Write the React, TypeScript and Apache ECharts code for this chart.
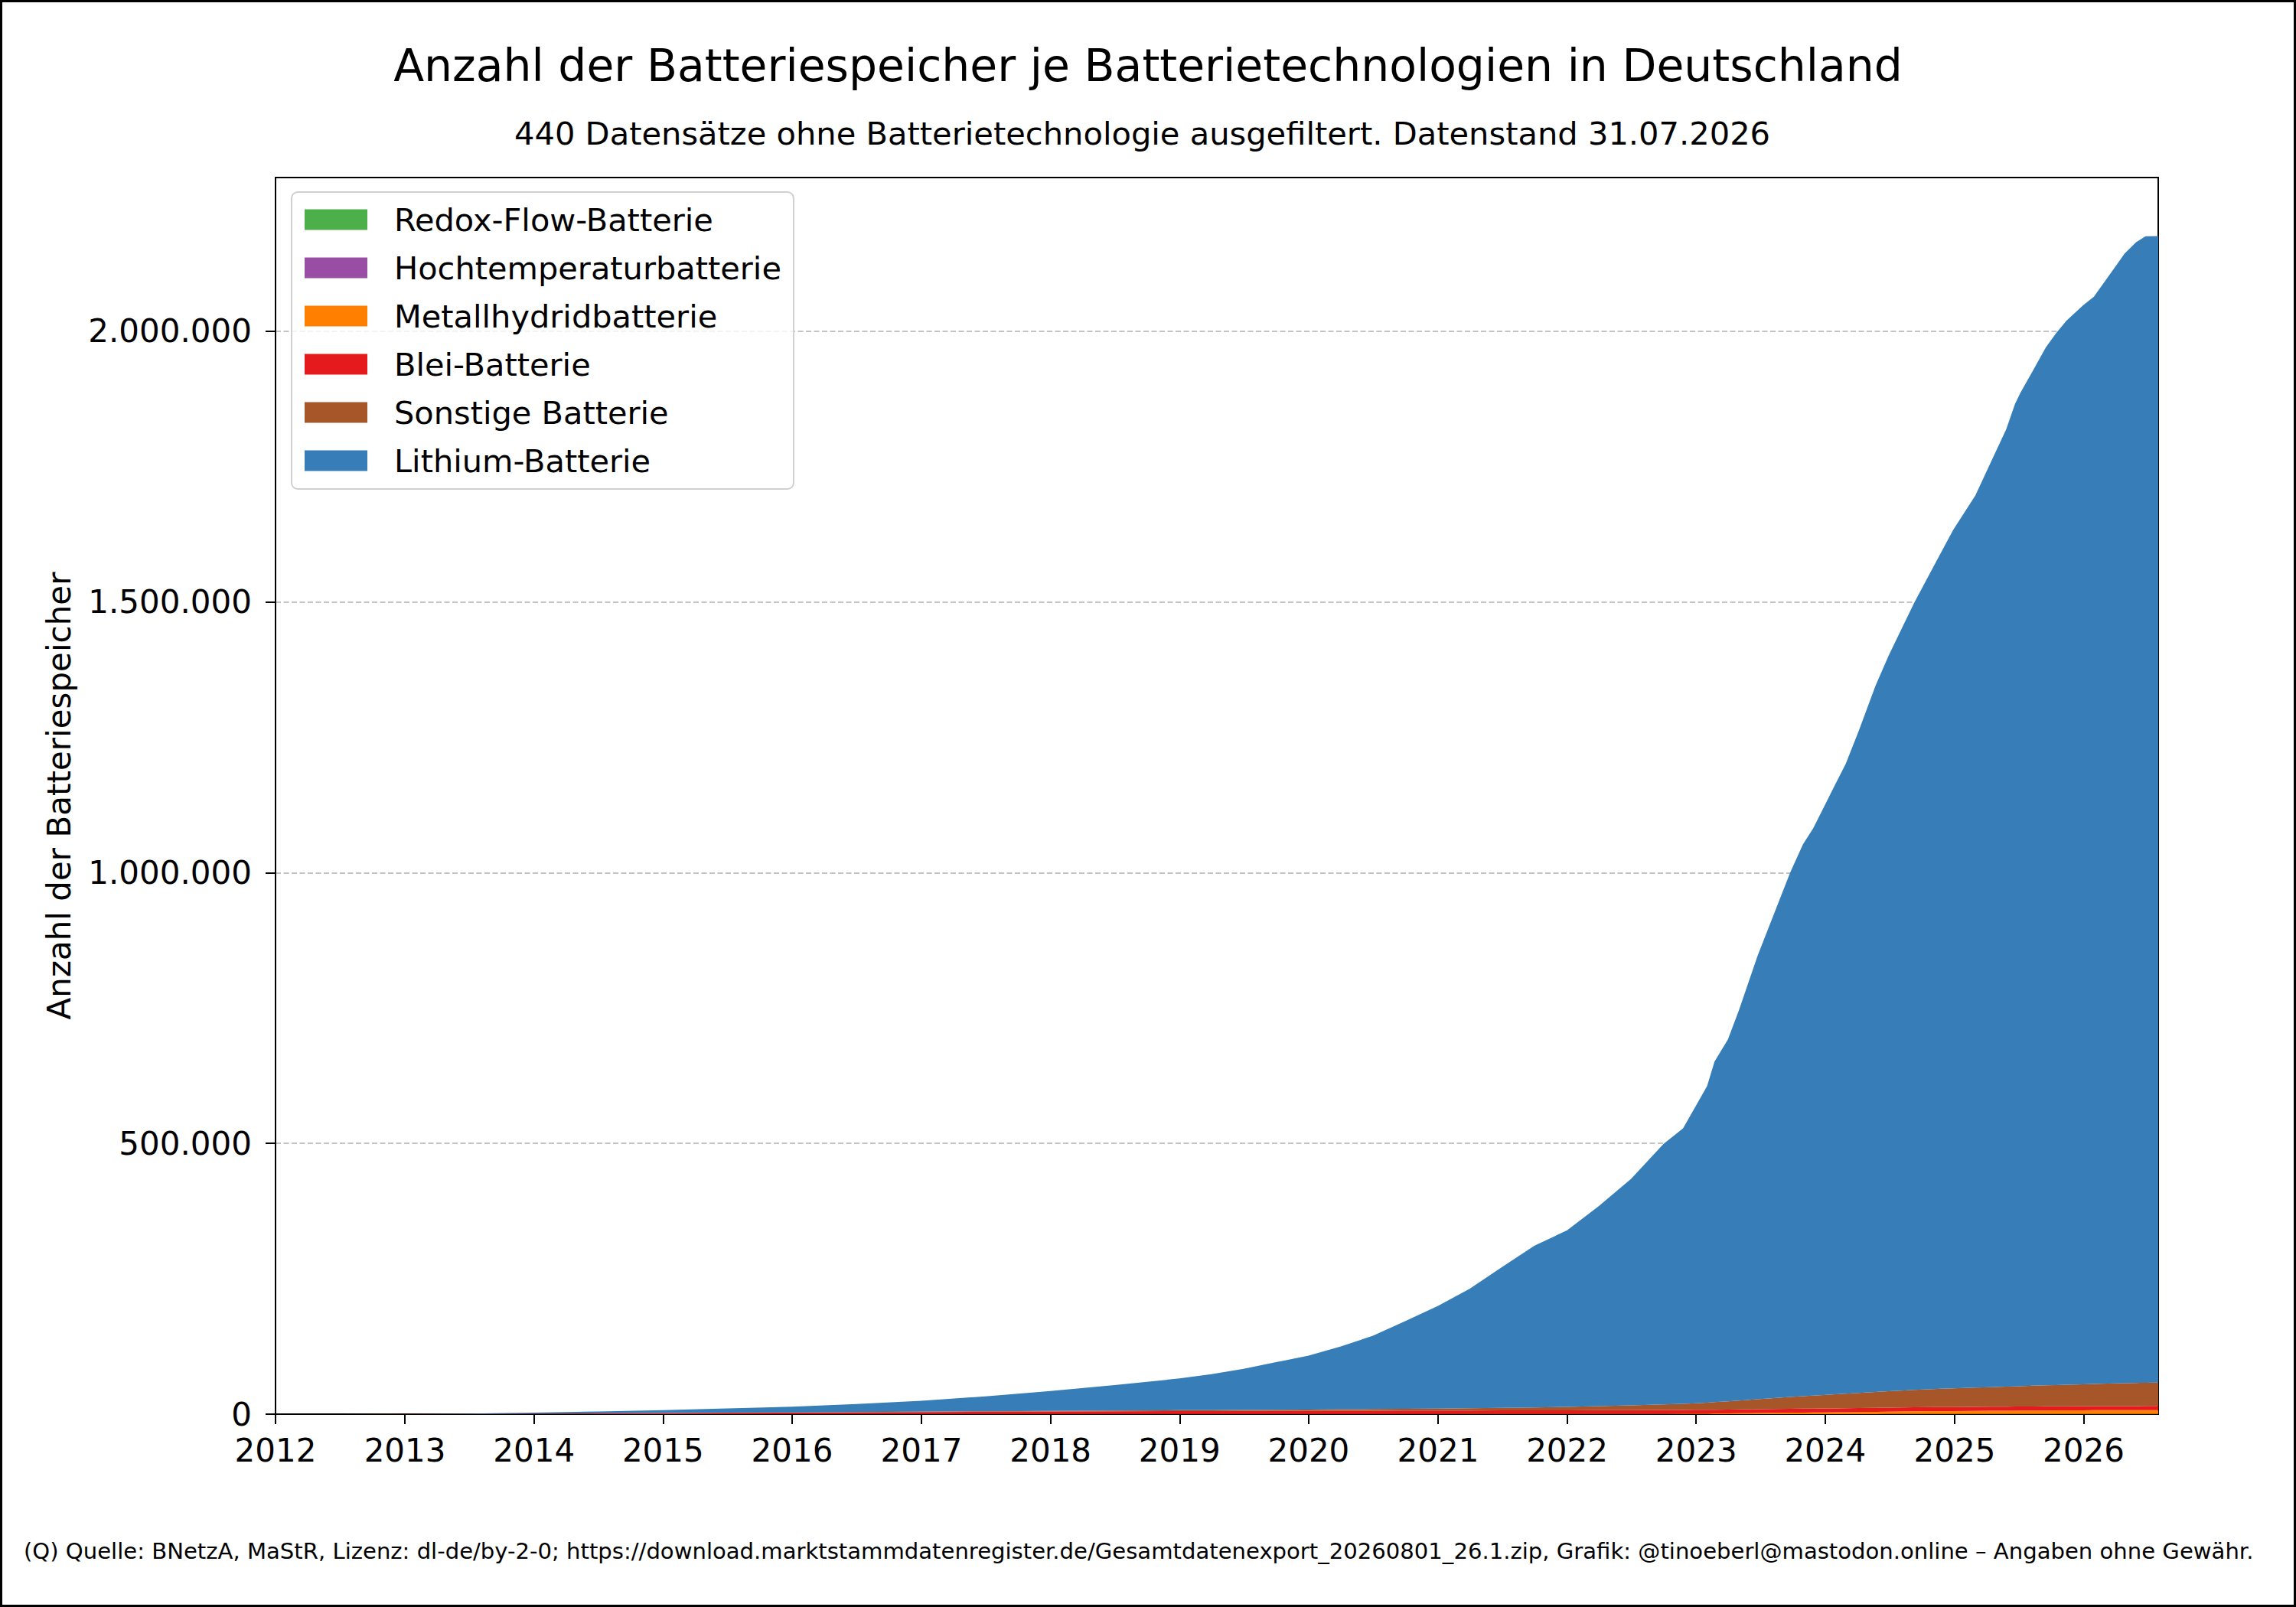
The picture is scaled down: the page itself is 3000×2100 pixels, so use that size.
// Batteriespeicher je Technologie: gestapelte Flächen, ECharts (SVG)
import { useEffect, useRef } from "react";
import * as echarts from "echarts";

const FONT = "DejaVu Sans";

const TITLE = "Anzahl der Batteriespeicher je Batterietechnologien in Deutschland";
const SUBTITLE = "440 Datensätze ohne Batterietechnologie ausgefiltert. Datenstand 31.07.2026";
const FOOTER =
  "(Q) Quelle: BNetzA, MaStR, Lizenz: dl-de/by-2-0; https://download.marktstammdatenregister.de/Gesamtdatenexport_20260801_26.1.zip, Grafik: @tinoeberl@mastodon.online – Angaben ohne Gewähr.";

const dates = [
  "2012-01-01", "2012-07-01",
  "2013-01-01", "2013-07-01",
  "2014-01-01", "2014-07-01",
  "2015-01-01", "2015-07-01",
  "2016-01-01", "2016-07-01",
  "2017-01-01", "2017-07-01",
  "2018-01-01", "2018-07-01",
  "2019-01-01", "2019-04-01", "2019-07-01", "2019-10-01",
  "2020-01-01", "2020-04-01", "2020-07-01", "2020-10-01",
  "2021-01-01", "2021-04-01", "2021-07-01", "2021-10-01",
  "2022-01-01", "2022-04-01", "2022-07-01", "2022-10-01", "2022-11-25",
  "2023-01-01", "2023-02-01", "2023-02-22", "2023-04-01", "2023-05-02",
  "2023-06-24", "2023-09-24", "2023-10-30", "2023-11-28", "2023-12-28",
  "2024-01-30", "2024-02-28", "2024-04-05", "2024-05-22", "2024-06-28",
  "2024-08-03", "2024-09-09", "2024-11-02", "2024-12-28",
  "2025-03-01", "2025-04-13", "2025-05-27", "2025-06-21", "2025-07-06",
  "2025-08-11", "2025-09-16", "2025-10-15", "2025-11-13", "2025-12-31",
  "2026-01-30", "2026-04-01", "2026-04-27", "2026-05-30", "2026-06-25", "2026-07-31",
];

const lithium = [
  0, 60,
  180, 600,
  1850, 3500,
  5400, 7800,
  10500, 14800,
  20000, 27500,
  36800, 47200,
  58700, 66300, 76000, 87700,
  99300, 115900, 135600, 162200,
  189700, 221000, 260200, 299000,
  326000, 369600, 418300, 481500, 509000,
  550000, 584500, 629000, 668500, 721000,
  819500, 968500, 1019000, 1047500, 1085500,
  1127000, 1163000, 1223000, 1304000, 1358000,
  1405500, 1454000, 1518500, 1585500,
  1648000, 1707500, 1768000, 1814500, 1834500,
  1875500, 1917000, 1942500, 1965000, 1993000,
  2008000, 2063000, 2086500, 2107000, 2117500, 2117500,
];

const sonstige = [
  0, 10,
  30, 60,
  120, 180,
  250, 330,
  420, 550,
  700, 900,
  1150, 1400,
  1700, 1850, 2000, 2200,
  2450, 2700, 2950, 3250,
  3600, 4100, 4700, 5400,
  6300, 7500, 8800, 10200, 11200,
  12200, 13200, 14000, 15200, 16200,
  18300, 21800, 23000, 24000, 25000,
  26100, 27000, 28000, 29300, 30300,
  31300, 32300, 33500, 34500,
  35600, 36300, 37000, 37400, 37700,
  38300, 38900, 39400, 39800, 40500,
  41000, 42000, 42400, 42800, 43100, 43200,
];

const blei = [
  0, 60,
  160, 400,
  750, 1200,
  1700, 2200,
  2700, 3200,
  3700, 4100,
  4500, 4850,
  5150, 5300, 5450, 5600,
  5750, 5850, 5950, 6050,
  6150, 6250, 6350, 6450,
  6550, 6650, 6750, 6850, 6900,
  6950, 7000, 7000, 7050, 7100,
  7150, 7200, 7250, 7250, 7300,
  7300, 7300, 7350, 7350, 7400,
  7400, 7400, 7450, 7450,
  7500, 7500, 7500, 7500, 7500,
  7500, 7500, 7500, 7500, 7500,
  7500, 7500, 7500, 7500, 7500, 7500,
];

const metallhydrid = [
  0, 10,
  30, 50,
  80, 110,
  140, 160,
  190, 220,
  250, 270,
  290, 310,
  330, 340, 350, 360,
  370, 380, 390, 400,
  420, 440, 460, 480,
  500, 550, 600, 700, 800,
  900, 1000, 1100, 1300, 1500,
  1900, 2500, 2700, 2850, 3000,
  3200, 3400, 3700, 4100, 4400,
  4700, 5000, 5300, 5500,
  5800, 6000, 6200, 6300, 6350,
  6500, 6650, 6750, 6850, 7000,
  7050, 7150, 7200, 7250, 7300, 7300,
];

const hochtemperatur = [
  0, 0,
  0, 0,
  5, 10,
  10, 15,
  20, 25,
  30, 35,
  40, 45,
  50, 52, 55, 58,
  60, 62, 65, 68,
  70, 72, 75, 78,
  80, 82, 85, 88, 90,
  92, 94, 95, 97, 98,
  100, 104, 106, 108, 110,
  112, 114, 116, 118, 120,
  122, 124, 126, 128,
  130, 132, 134, 135, 136,
  138, 140, 141, 142, 144,
  145, 147, 148, 149, 150, 150,
];

const redoxFlow = [
  0, 0,
  0, 0,
  0, 0,
  2, 3,
  5, 6,
  8, 10,
  12, 14,
  16, 17, 18, 19,
  20, 22, 24, 26,
  28, 30, 32, 34,
  36, 38, 40, 42, 43,
  44, 45, 45, 46, 47,
  48, 50, 50, 51, 52,
  53, 54, 55, 56, 57,
  58, 59, 60, 61,
  62, 63, 64, 65, 65,
  66, 67, 68, 68, 69,
  70, 71, 71, 72, 72, 72,
];

const yTicks = [0, 500000, 1000000, 1500000, 2000000];

// von unten nach oben gestapelt
const layers = [
  { name: "Redox-Flow-Batterie", color: "#4daf4a", values: redoxFlow },
  { name: "Hochtemperaturbatterie", color: "#984ea3", values: hochtemperatur },
  { name: "Metallhydridbatterie", color: "#ff7f00", values: metallhydrid },
  { name: "Blei-Batterie", color: "#e41a1c", values: blei },
  { name: "Sonstige Batterie", color: "#a65628", values: sonstige },
  { name: "Lithium-Batterie", color: "#377eb8", values: lithium },
];

const fmtDE = (v: number) => String(Math.round(v)).replace(/\B(?=(\d{3})+(?!\d))/g, ".");

export default function App() {
  const ref = useRef<HTMLDivElement>(null);

  useEffect(() => {
    if (!ref.current) return;
    const chart = echarts.init(ref.current, null, { renderer: "svg" });
    const year = 365 * 24 * 3600 * 1000;

    chart.setOption({
      animation: false,
      backgroundColor: "#fff",
      textStyle: { fontFamily: FONT },
      title: [
        {
          text: TITLE,
          left: "center",
          top: 57,
          padding: 0,
          textStyle: { fontSize: 58.4, fontWeight: "normal", color: "#000", fontFamily: FONT },
        },
        {
          text: SUBTITLE,
          left: 672,
          top: 153,
          padding: 0,
          textStyle: { fontSize: 41.6, fontWeight: "normal", color: "#000", fontFamily: FONT },
        },
        {
          text: FOOTER,
          left: 31,
          top: 2012,
          padding: 0,
          textStyle: { fontSize: 29.1, fontWeight: "normal", color: "#000", fontFamily: FONT },
        },
      ],
      legend: {
        orient: "vertical",
        left: 381,
        top: 251,
        data: layers.map((l) => l.name),
        icon: "rect",
        itemWidth: 82,
        itemHeight: 27,
        itemGap: 21,
        padding: [15, 16, 16, 17],
        borderColor: "#d0d0d0",
        borderWidth: 2,
        borderRadius: 8,
        backgroundColor: "rgba(255,255,255,0.8)",
        selectedMode: false,
        textStyle: {
          fontSize: 41.5,
          color: "#000",
          fontFamily: FONT,
          lineHeight: 42,
          padding: [0, 0, 0, 30],
        },
      },
      grid: {
        left: 360,
        right: 180,
        top: 232,
        bottom: 252,
        show: true,
        borderColor: "#000",
        borderWidth: 2,
        backgroundColor: "transparent",
      },
      xAxis: {
        type: "time",
        min: "2012-01-01",
        max: "2026-07-31",
        minInterval: year,
        maxInterval: year + 24 * 3600 * 1000,
        axisLine: { show: true, lineStyle: { color: "#000", width: 2 } },
        axisTick: { show: true, length: 13, lineStyle: { color: "#000", width: 2 } },
        axisLabel: {
          formatter: (v: number) => String(new Date(v).getFullYear()),
          fontSize: 42,
          color: "#000",
          fontFamily: FONT,
          margin: 26,
        },
        splitLine: { show: false },
      },
      yAxis: {
        type: "value",
        min: 0,
        max: 2284000,
        interval: 500000,
        name: "Anzahl der Batteriespeicher",
        nameLocation: "middle",
        nameGap: 262,
        nameTextStyle: { fontSize: 42, color: "#000", fontFamily: FONT },
        axisLine: { show: true, lineStyle: { color: "#000", width: 2 } },
        axisTick: {
          show: true,
          length: 13,
          customValues: yTicks,
          lineStyle: { color: "#000", width: 2 },
        },
        axisLabel: {
          customValues: yTicks,
          formatter: (v: number) => fmtDE(v),
          fontSize: 42,
          color: "#000",
          fontFamily: FONT,
          margin: 31,
        },
        splitLine: {
          show: true,
          lineStyle: { color: "#b0b0b0", width: 1.5, type: [7, 3.5] },
        },
      },
      series: layers.map((l) => ({
        name: l.name,
        type: "line",
        stack: "total",
        showSymbol: false,
        symbol: "none",
        smooth: false,
        color: l.color,
        lineStyle: { width: 0, color: l.color },
        itemStyle: { color: l.color },
        areaStyle: { color: l.color, opacity: 1 },
        data: dates.map((d, i) => [d, l.values[i]]),
      })),
      graphic: [
        {
          type: "rect",
          shape: { x: 1.5, y: 1.5, width: 2997, height: 2097 },
          style: { fill: "none", stroke: "#000", lineWidth: 3 },
          silent: true,
          z: 100,
        },
      ],
    });

    return () => chart.dispose();
  }, []);

  return (
    <div
      ref={ref}
      style={{ position: "absolute", left: 0, top: 0, width: 3000, height: 2100 }}
    />
  );
}
